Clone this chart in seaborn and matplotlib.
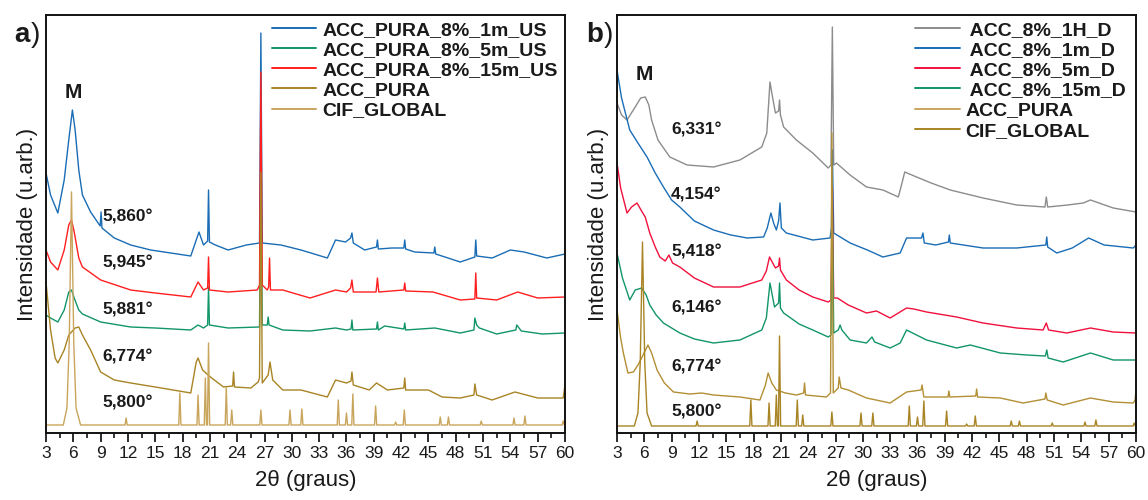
import pandas as pd
import seaborn as sns
import matplotlib.pyplot as plt
from matplotlib.ticker import MultipleLocator

# ---------------- painel a) : pontos (2theta, intensidade) ----------------
a_1m_us = [(3.0, 260), (3.5, 238), (4.3, 220), (5.0, 253), (5.5, 293), (5.9, 323), (6.2, 303), (6.6, 263),
           (7.0, 238), (7.9, 221), (8.95, 207), (9.05, 221), (9.15, 205), (10.5, 195), (12.3, 188), (14.5, 183),
           (16.7, 180), (18.9, 177), (19.5, 193), (19.8, 201), (20.3, 188), (20.75, 192), (20.85, 243), (20.95, 191),
           (21.6, 188), (23.0, 183), (25.0, 188), (26.45, 190), (26.6, 400), (26.75, 190), (28.8, 188), (31.0, 183),
           (33.9, 175), (34.8, 193), (35.9, 191), (36.45, 195), (36.6, 200), (36.75, 190), (38.0, 183), (39.3, 186),
           (39.4, 193), (39.5, 184), (41.0, 185), (42.3, 185), (42.4, 193), (42.5, 184), (43.5, 181), (45.6, 180),
           (45.7, 186), (45.8, 179), (48.5, 171), (50.1, 176), (50.2, 193), (50.3, 177), (52.0, 175), (54.0, 183),
           (55.5, 181), (58.0, 175), (60.0, 179)]

a_5m_us = [(3.0, 118), (3.5, 115), (4.3, 111), (5.0, 123), (5.5, 141), (5.8, 143), (6.1, 135), (6.6, 123),
           (7.0, 119), (9.0, 111), (12.3, 106), (15.0, 105), (18.9, 103), (19.7, 108), (20.3, 105), (20.75, 108),
           (20.85, 146), (20.95, 108), (23.0, 105), (26.45, 106), (26.6, 276), (26.75, 108), (27.3, 108), (27.4, 116),
           (27.5, 108), (29.0, 103), (32.0, 102), (34.8, 105), (36.0, 103), (36.5, 104), (36.6, 113), (36.7, 103),
           (39.3, 104), (39.4, 111), (39.5, 103), (40.2, 107), (42.3, 104), (42.4, 110), (42.5, 103), (45.7, 105),
           (48.5, 100), (50.0, 103), (50.1, 115), (50.3, 108), (50.6, 105), (52.5, 99), (54.6, 103), (54.7, 108),
           (55.2, 102), (57.5, 99), (60.0, 100)]

a_15m_us = [(3.0, 183), (3.5, 171), (4.3, 163), (5.0, 183), (5.5, 208), (5.8, 213), (6.1, 201), (6.6, 175),
            (7.0, 166), (9.0, 153), (12.3, 143), (15.0, 140), (18.9, 136), (19.7, 151), (20.3, 143), (20.75, 145),
            (20.85, 176), (20.95, 143), (23.0, 141), (26.2, 143), (26.45, 148), (26.6, 361), (26.75, 148), (27.3, 143),
            (27.45, 146), (27.55, 175), (27.65, 143), (29.0, 143), (32.0, 135), (34.8, 143), (36.0, 141), (36.45, 145),
            (36.6, 153), (36.75, 141), (39.25, 141), (39.4, 155), (39.55, 141), (42.3, 143), (42.4, 150), (42.5, 142),
            (45.5, 141), (48.5, 133), (50.1, 134), (50.2, 160), (50.3, 135), (52.5, 133), (54.8, 141), (57.0, 135),
            (60.0, 136)]

a_pura = [(3.0, 151), (3.5, 103), (4.0, 75), (4.3, 70), (5.0, 83), (5.5, 98), (6.2, 105), (6.6, 106), (7.0, 98),
          (7.9, 83), (9.0, 61), (10.5, 53), (12.3, 50), (15.0, 46), (18.9, 40), (19.5, 71), (19.7, 75), (20.2, 63),
          (20.8, 58), (21.2, 55), (22.5, 46), (23.5, 47), (23.6, 61), (23.7, 46), (25.5, 45), (26.3, 51), (26.45, 55),
          (26.6, 261), (26.75, 50), (27.4, 58), (27.6, 71), (27.9, 53), (29.0, 43), (31.0, 43), (33.9, 36), (34.8, 53),
          (36.0, 50), (36.5, 52), (36.6, 61), (36.75, 48), (38.5, 43), (39.3, 50), (40.5, 43), (42.3, 45), (42.4, 55),
          (42.5, 43), (45.0, 43), (46.5, 36), (48.5, 35), (50.0, 38), (50.1, 49), (50.3, 38), (52.0, 33), (54.5, 41),
          (57.0, 35), (59.8, 35), (60.0, 48)]

# CIF: pico largo em 5,8 + picos finos (posicao, altura)
a_cif_base = 8
a_cif_broad = [(3.0, 8), (4.9, 8), (5.3, 25), (5.55, 90), (5.8, 241), (6.05, 90), (6.3, 25), (6.8, 8)]
cif_pos = [11.8, 17.7, 19.7, 20.5, 20.85, 22.8, 23.4, 26.6, 29.8, 31.1, 35.1, 36.0, 36.7, 39.2, 41.4, 42.35,
           46.3, 47.2, 50.8, 54.4, 55.6, 59.8]
a_cif_h = [7, 32, 30, 47, 82, 37, 15, 15, 15, 16, 25, 12, 31, 19, 3, 15, 8, 8, 4, 7, 9, 4]

# ---------------- painel b) ----------------
b_1h_d = [(3.0, 330), (3.5, 318), (4.1, 313), (5.0, 326), (5.6, 335), (6.1, 336), (6.5, 328), (6.8, 313),
          (7.5, 293), (8.8, 276), (10.7, 268), (13.6, 266), (16.5, 273), (18.9, 286), (19.45, 300), (19.8, 351),
          (20.1, 335), (20.4, 320), (20.75, 322), (20.85, 333), (20.95, 318), (21.3, 306), (22.7, 293), (24.5, 280),
          (26.2, 265), (26.5, 268), (26.65, 406), (26.8, 268), (27.1, 270), (28.6, 258), (30.4, 246), (32.2, 243),
          (33.9, 236), (34.3, 250), (34.6, 261), (35.9, 256), (37.5, 250), (39.6, 243), (43.2, 235), (46.9, 228),
          (50.0, 226), (50.15, 236), (50.3, 226), (52.5, 228), (54.2, 230), (55.0, 233), (57.5, 225), (60.0, 221)]

b_1m_d = [(3.0, 363), (3.5, 335), (4.4, 303), (5.3, 290), (6.3, 276), (7.2, 260), (8.1, 246), (9.0, 233),
          (9.9, 226), (11.5, 212), (13.6, 203), (15.5, 198), (17.3, 195), (19.1, 196), (19.5, 205), (19.9, 220),
          (20.2, 210), (20.5, 203), (20.75, 212), (20.9, 230), (21.05, 205), (21.6, 200), (24.5, 193), (26.4, 195),
          (26.55, 205), (26.65, 283), (26.8, 200), (28.6, 190), (30.5, 183), (32.2, 176), (34.1, 180), (34.8, 195),
          (36.45, 195), (36.6, 200), (36.75, 190), (38.0, 188), (39.4, 191), (39.5, 198), (39.6, 190), (43.2, 185),
          (46.9, 185), (50.1, 188), (50.2, 196), (50.3, 186), (51.3, 180), (53.0, 185), (54.8, 195), (56.5, 188),
          (59.7, 185), (60.0, 188)]

b_5m_d = [(3.0, 270), (3.4, 245), (4.1, 220), (4.6, 226), (5.2, 230), (5.7, 222), (6.1, 216), (6.6, 200),
          (7.2, 186), (7.7, 176), (8.3, 172), (8.7, 178), (9.1, 170), (9.9, 166), (11.5, 155), (13.6, 146),
          (16.5, 146), (18.9, 153), (19.4, 162), (19.75, 176), (20.1, 170), (20.4, 165), (20.75, 167), (20.85, 175),
          (20.95, 163), (21.6, 153), (23.0, 143), (24.5, 136), (26.2, 131), (26.5, 133), (26.65, 245), (26.8, 135),
          (27.2, 135), (28.4, 128), (30.4, 120), (31.5, 122), (33.0, 115), (34.8, 125), (35.6, 124), (37.0, 121),
          (40.3, 116), (43.2, 110), (46.9, 105), (49.8, 103), (50.15, 110), (50.4, 103), (52.4, 100), (55.0, 105),
          (57.5, 101), (60.0, 100)]

b_15m_d = [(3.0, 180), (3.6, 155), (4.4, 133), (5.0, 143), (5.7, 145), (6.2, 138), (6.6, 128), (7.3, 118),
           (8.1, 110), (9.9, 100), (11.5, 94), (13.6, 90), (16.5, 93), (18.9, 103), (19.4, 115), (19.8, 150),
           (20.05, 138), (20.3, 126), (20.75, 130), (20.85, 150), (20.95, 125), (21.3, 120), (23.0, 109), (24.5, 103),
           (26.2, 96), (26.5, 98), (26.65, 228), (26.8, 100), (27.3, 103), (27.5, 108), (27.7, 103), (28.6, 93),
           (30.4, 90), (31.0, 96), (31.3, 91), (33.0, 85), (34.1, 90), (34.8, 103), (37.0, 93), (40.3, 85),
           (41.8, 88), (45.1, 80), (48.0, 78), (50.05, 77), (50.2, 83), (50.35, 75), (52.0, 71), (55.0, 80),
           (57.5, 73), (60.0, 73)]

b_pura = [(3.0, 123), (3.4, 95), (3.7, 80), (4.2, 60), (4.8, 61), (5.3, 68), (5.7, 75), (6.4, 88), (6.8, 80),
          (7.4, 63), (8.2, 50), (9.2, 41), (11.0, 39), (12.3, 40), (13.6, 38), (16.5, 36), (18.7, 33), (19.3, 48),
          (19.6, 60), (20.0, 50), (20.5, 43), (21.5, 40), (22.7, 38), (23.5, 40), (23.6, 50), (23.7, 38), (26.0, 36),
          (26.45, 40), (26.6, 300), (26.75, 40), (27.3, 45), (27.4, 56), (27.6, 45), (28.4, 43), (30.4, 35),
          (33.0, 30), (34.8, 41), (36.4, 43), (36.5, 48), (36.7, 36), (37.0, 36), (39.35, 36), (39.45, 42),
          (39.55, 36), (42.4, 37), (42.5, 44), (42.6, 36), (45.1, 35), (47.6, 30), (50.0, 34), (50.1, 40),
          (50.25, 33), (52.0, 28), (55.0, 35), (57.5, 31), (59.7, 30), (59.9, 33), (60.0, 43)]

b_cif_base = 7
b_cif_broad = [(3.0, 7), (4.9, 7), (5.3, 20), (5.55, 70), (5.8, 191), (6.05, 70), (6.3, 20), (6.8, 7)]
b_cif_h = [5, 26, 23, 31, 90, 26, 11, 14, 13, 13, 20, 9, 25, 15, 2, 10, 5, 5, 3, 4, 6, 3]

# rotulos
a_labels = [("5,860°", 216), ("5,945°", 170), ("5,881°", 123), ("6,774°", 76), ("5,800°", 30)]
b_labels = [("6,331°", 303), ("4,154°", 238), ("5,418°", 181), ("6,146°", 125), ("6,774°", 66), ("5,800°", 21)]

BLUE, GREEN, RED, RED_B = "#1a6db5", "#12956a", "#ff1f1f", "#f0103c"
GOLD_D, GOLD_L, GOLD_M, GRAY = "#a98425", "#c9a55c", "#b38f35", "#8c8c8c"


def cif_trace(broad, base, heights):
    pts = list(broad)
    for p, h in zip(cif_pos, heights):
        pts += [(p - 0.12, base), (p, base + h), (p + 0.12, base)]
    pts.append((60.0, base))
    return sorted(pts)


def draw(ax, pts, color, label):
    df = pd.DataFrame(pts, columns=["tt", "I"])
    sns.lineplot(data=df, x="tt", y="I", ax=ax, color=color, lw=1.0,
                 sort=False, estimator=None, label=label)


sns.set_theme(style="ticks")
plt.rcParams["font.family"] = ["Liberation Sans", "DejaVu Sans"]
plt.rcParams["text.color"] = "#1a1a1a"

fig = plt.figure(figsize=(11.48, 5.0), dpi=100)
ax_a = fig.add_axes([46 / 1148, 67 / 500, 519 / 1148, 418 / 500])
ax_b = fig.add_axes([617 / 1148, 67 / 500, 519 / 1148, 418 / 500])

# painel a
draw(ax_a, a_1m_us, BLUE, "ACC_PURA_8%_1m_US")
draw(ax_a, a_5m_us, GREEN, "ACC_PURA_8%_5m_US")
draw(ax_a, a_15m_us, RED, "ACC_PURA_8%_15m_US")
draw(ax_a, a_pura, GOLD_D, "ACC_PURA")
draw(ax_a, cif_trace(a_cif_broad, a_cif_base, a_cif_h), GOLD_L, "CIF_GLOBAL")

# painel b
draw(ax_b, b_1h_d, GRAY, " ACC_8%_1H_D")
draw(ax_b, b_1m_d, BLUE, " ACC_8%_1m_D")
draw(ax_b, b_5m_d, RED_B, " ACC_8%_5m_D")
draw(ax_b, b_15m_d, GREEN, " ACC_8%_15m_D")
draw(ax_b, b_pura, GOLD_M, "ACC_PURA")
draw(ax_b, cif_trace(b_cif_broad, b_cif_base, b_cif_h), GOLD_D, "CIF_GLOBAL")

for ax, lx, labels, my in [(ax_a, 0.435, a_labels, 340), (ax_b, 0.574, b_labels, 359)]:
    ax.set_xlim(3, 60)
    ax.set_ylim(0, 418)
    ax.set_yticks([])
    ax.xaxis.set_major_locator(MultipleLocator(3))
    ax.xaxis.set_minor_locator(MultipleLocator(1.5))
    ax.tick_params(axis="x", which="major", direction="out", length=6.5, width=1.3,
                   labelsize=12.5, pad=3, colors="#1a1a1a")
    ax.tick_params(axis="x", which="minor", direction="out", length=3.5, width=1.3)
    for s in ax.spines.values():
        s.set_visible(True)
        s.set_linewidth(1.4)
        s.set_color("#111111")
    ax.set_xlabel("2θ (graus)", fontsize=16, labelpad=6, color="#1a1a1a")
    ax.set_ylabel("Intensidade (u.arb.)", fontsize=16, labelpad=6, color="#1a1a1a")
    leg = ax.legend(loc="upper left", bbox_to_anchor=(lx, 0.985), frameon=False,
                    prop={"weight": "bold", "size": 14}, handlelength=2.3, handletextpad=0.3,
                    labelspacing=0.13, borderpad=0, borderaxespad=0)
    for ln in leg.get_lines():
        ln.set_linewidth(1.4)
    tx = 9.15 if ax is ax_a else 8.93
    for txt, y in labels:
        ax.text(tx, y, txt, fontsize=12.5, fontweight="bold", ha="left", va="center")
    ax.text(5.95, my, "M", fontsize=15, fontweight="bold", ha="center", va="center")

# no painel b a legenda usa as cores trocadas de ACC_PURA / CIF
leg_b = ax_b.get_legend()
leg_b.get_lines()[4].set_color(GOLD_L)
leg_b.get_lines()[5].set_color(GOLD_D)

fig.text(14 / 1148, 1 - 42 / 500, "a", fontsize=20, fontweight="bold")
fig.text(31 / 1148, 1 - 42 / 500, ")", fontsize=20)
fig.text(586 / 1148, 1 - 42 / 500, "b", fontsize=20, fontweight="bold")
fig.text(604 / 1148, 1 - 42 / 500, ")", fontsize=20)

fig.savefig("out.png", dpi=100)
